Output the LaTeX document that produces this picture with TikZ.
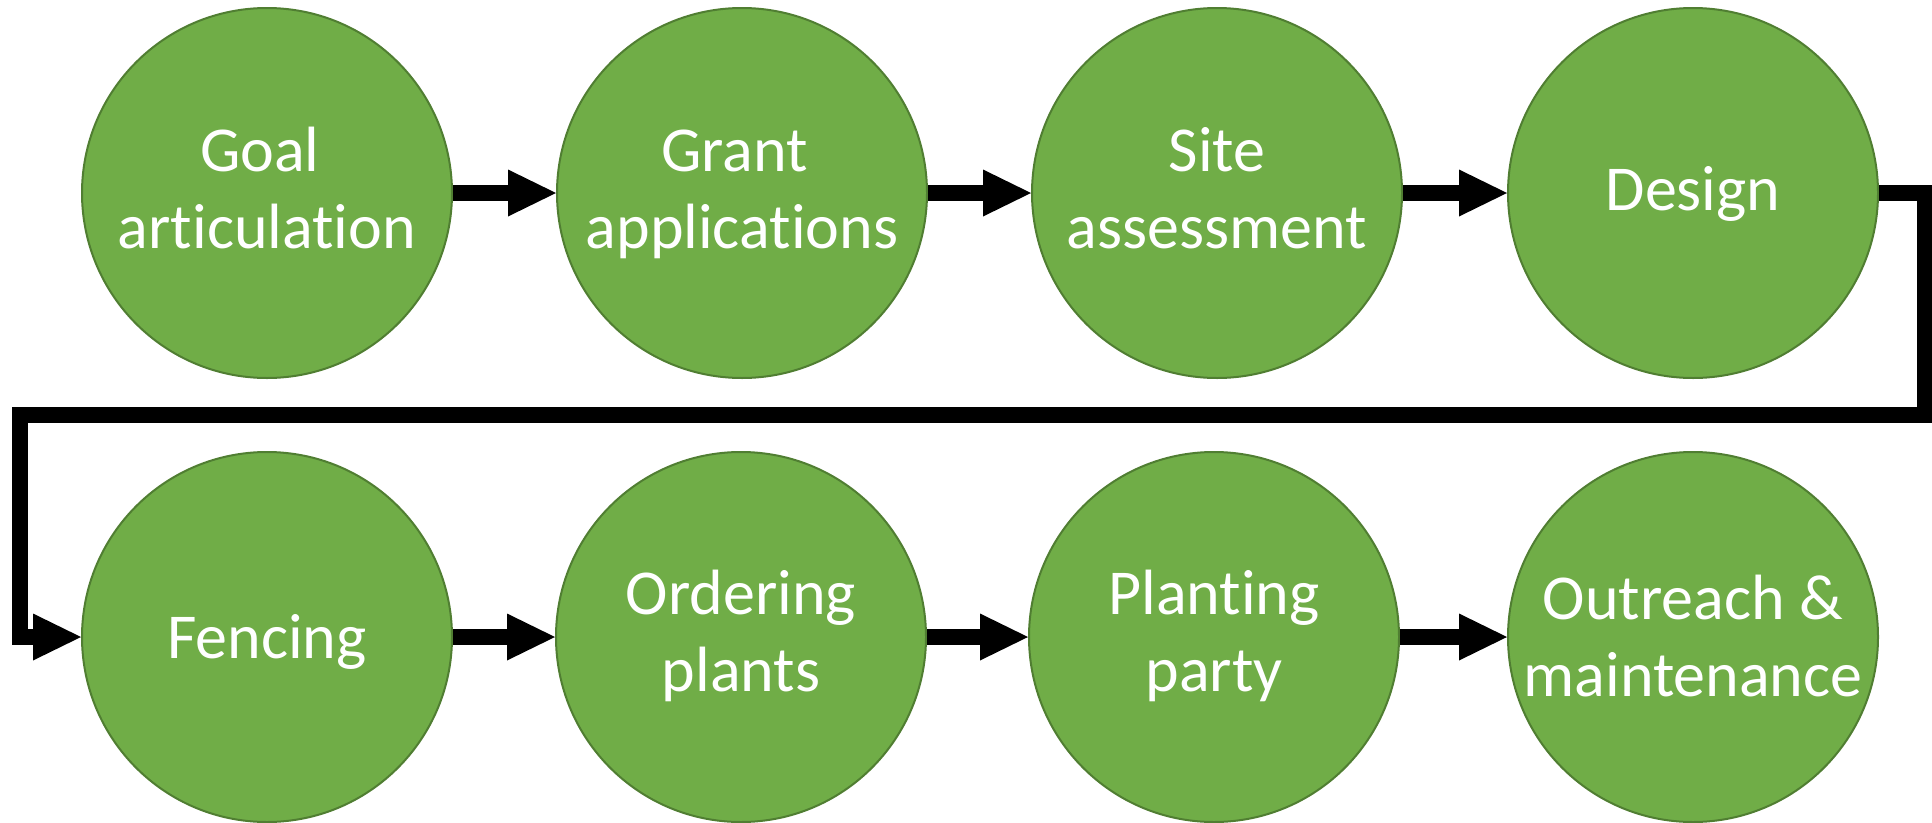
\documentclass[tikz,border=0pt]{standalone}
\usepackage{fontspec}
\setmainfont{Carlito}[Ligatures={NoCommon}]
\usetikzlibrary{arrows.meta}
\definecolor{stepgreen}{HTML}{70AD47}
\definecolor{stepedge}{HTML}{507E32}
\newcommand{\oneline}[2][-18pt]{\smash{\raisebox{#1}{#2}}}
\newcommand{\twoline}[3][22pt]{\smash{\raisebox{#1}{\begin{tabular}[t]{@{}c@{}}#2\\#3\end{tabular}}}}
\begin{document}
\begin{tikzpicture}[x=1pt,y=-1pt,
  stepcircle/.style={circle, fill=stepgreen, draw=stepedge, line width=2pt,
    minimum size=370pt, inner sep=0pt, text=white,
    font=\fontsize{64}{77}\selectfont},
  flow/.style={line width=16pt, line join=miter,
    -{Triangle[length=48pt,width=47pt,line width=0pt]}}
]
\useasboundingbox (0,0) rectangle (1932,822);
\fill[white] (0,0) rectangle (1932,822);

\node[stepcircle] (goal)   at (267,193) {\twoline{Goal\kern0.226em}{articulation}};
\node[stepcircle] (grant)  at (742,193) {\twoline{Grant\kern0.226em}{applications}};
\node[stepcircle] (site)   at (1217,193) {\twoline{Site}{assessment}};
\node[stepcircle] (design) at (1693,193) {\oneline[-17pt]{Design}};

\node[stepcircle] (fence)  at (267,637) {\oneline[-21pt]{Fencing}};
\node[stepcircle] (order)  at (741,637) {\twoline[23pt]{Ordering}{plants}};
\node[stepcircle] (plant)  at (1214,637) {\twoline[23pt]{Planting}{party}};
\node[stepcircle] (outr)   at (1693,637) {\twoline[17.5pt]{Outreach \&}{maintenance}};

\coordinate (c1) at (1925,193);
\coordinate (c2) at (1925,415);
\coordinate (c3) at (19.5,415);
\coordinate (c4) at (19.5,637);

\draw[flow] (goal) -- (grant);
\draw[flow] (grant) -- (site);
\draw[flow] (site) -- (design);
\draw[flow] (design.east) -- (c1) -- (c2) -- (c3) -- (c4) -- (fence.west);
\draw[flow] (fence) -- (order);
\draw[flow] (order) -- (plant);
\draw[flow] (plant) -- (outr);
\end{tikzpicture}
\end{document}
